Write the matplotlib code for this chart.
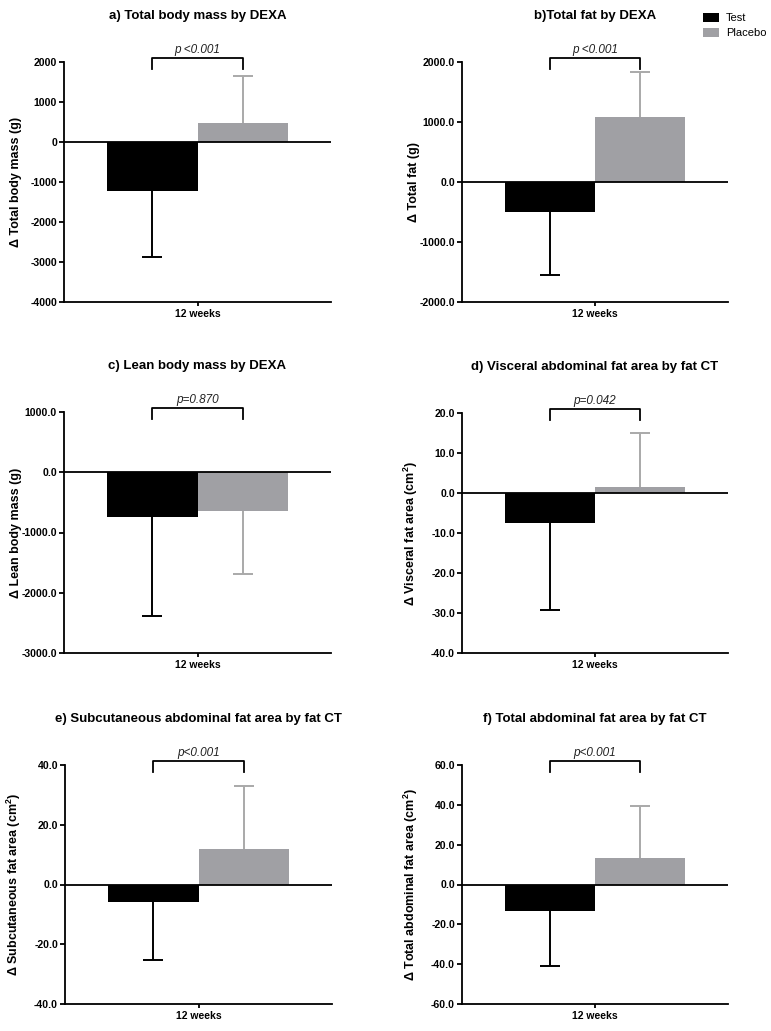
import matplotlib
matplotlib.use("Agg")
import matplotlib.pyplot as plt
import matplotlib.transforms as mtransforms
from matplotlib.patches import Patch
from matplotlib.ticker import FixedLocator, FuncFormatter

plt.rcParams['font.family'] = ['Liberation Sans', 'DejaVu Sans']

# ---------------- data ----------------
groups = ["Test", "Placebo"]
category = "12 weeks"

titles = [
    "a) Total body mass by DEXA",
    "b)Total fat by DEXA",
    "c) Lean body mass by DEXA",
    "d) Visceral abdominal fat area by fat CT",
    "e) Subcutaneous abdominal fat area by fat CT",
    "f) Total abdominal fat area by fat CT",
]
ylabels = [
    "Δ Total body mass (g)",
    "Δ Total fat (g)",
    "Δ Lean body mass (g)",
    "Δ Visceral fat area (cm$^\\mathregular{2}$)",
    "Δ Subcutaneous fat area (cm$^\\mathregular{2}$)",
    "Δ Total abdominal fat area (cm$^\\mathregular{2}$)",
]
p_values = ["p <0.001", "p <0.001", "p=0.870", "p=0.042", "p<0.001", "p<0.001"]

test_mean = [-1230, -495, -745, -7.6, -5.9, -13.3]
test_sd = [1650, 1055, 1645, 21.7, 19.4, 27.7]
placebo_mean = [475, 1090, -640, 1.5, 11.8, 13.5]
placebo_sd = [1165, 738, 1050, 13.4, 21.2, 26.0]

y_ticks = [
    [-4000, -3000, -2000, -1000, 0, 1000, 2000],
    [-2000, -1000, 0, 1000, 2000],
    [-3000, -2000, -1000, 0, 1000],
    [-40, -30, -20, -10, 0, 10, 20],
    [-40, -20, 0, 20, 40],
    [-60, -40, -20, 0, 20, 40, 60],
]
tick_decimals = [0, 1, 1, 1, 1, 1]

# ---------------- style ----------------
W, H = 771, 1031
fig = plt.figure(figsize=(W / 100, H / 100), dpi=100)

# axes boxes in pixels: left, right, top, bottom
boxes = [
    (64, 331, 62, 302),
    (462, 728, 62, 302),
    (64, 331, 412, 653),
    (462, 728, 413, 653),
    (65, 332, 765, 1004),
    (462, 728, 765, 1004),
]
c_test = "#000000"
c_plac = "#a0a0a4"
c_plac_err = "#a9a9a9"
bw = 1.0
xpos = [-0.5, 0.5]

for i in range(6):
    l, r, t, b = boxes[i]
    ax = fig.add_axes([l / W, 1 - b / H, (r - l) / W, (b - t) / H])
    means = [test_mean[i], placebo_mean[i]]
    sds = [test_sd[i], placebo_sd[i]]
    cols = [c_test, c_plac]
    ecols = [c_test, c_plac_err]
    for x, m, s, c, ec in zip(xpos, means, sds, cols, ecols):
        ax.bar(x, m, width=bw, color=c, edgecolor='none', zorder=2)
        if m < 0:
            yerr = [[s], [0]]
        else:
            yerr = [[0], [s]]
        eb = ax.errorbar(x, m, yerr=yerr, fmt='none', ecolor=ec, elinewidth=1.4,
                         capsize=7.5, capthick=1.4, zorder=3)
        caps = eb[1]
        if len(caps) == 2:
            # hide the cap sitting on the bar end
            caps[1 if m < 0 else 0].set_visible(False)
    ax.axhline(0, color='black', lw=1.3, zorder=4)
    ax.set_xlim(-1.483, 1.483)
    ticks = y_ticks[i]
    ax.set_ylim(ticks[0], ticks[-1])
    ax.yaxis.set_major_locator(FixedLocator(ticks))
    d = tick_decimals[i]
    ax.yaxis.set_major_formatter(FuncFormatter(lambda v, p, d=d: f"{v:.{d}f}"))
    ax.set_xticks([0])
    ax.set_xticklabels([category])
    for sp in ['top', 'right']:
        ax.spines[sp].set_visible(False)
    for sp in ['left', 'bottom']:
        ax.spines[sp].set_linewidth(1.3)
    ax.tick_params(axis='y', direction='out', length=3.8, width=1.3,
                   labelsize=7.6, pad=1.2)
    ax.tick_params(axis='x', direction='out', length=3, width=1.3,
                   labelsize=7.5, pad=1.8)
    for lab in ax.get_yticklabels() + ax.get_xticklabels():
        lab.set_fontweight('bold')
    ax.set_ylabel(ylabels[i], fontsize=9, fontweight='bold')
    ax.yaxis.set_label_coords(-42 / (r - l), 0.5)
    ax.set_title(titles[i], fontsize=9.5, fontweight='bold', pad=31)

    # significance bracket
    trans = mtransforms.blended_transform_factory(ax.transData, ax.transAxes)
    hpx = b - t
    ytop = 1 + 4 / hpx
    ylow = 1 - 7 / hpx
    ax.plot([xpos[0], xpos[0], xpos[1], xpos[1]], [ylow, ytop, ytop, ylow],
            color='black', lw=1.3, transform=trans, clip_on=False)
    ax.text(0, 1 + 12 / hpx, p_values[i], transform=trans, ha='center',
            va='center', fontsize=8.5, fontstyle='italic', color='#222222')

handles = [Patch(facecolor=c_test, edgecolor='none', label=groups[0]),
           Patch(facecolor=c_plac, edgecolor='none', label=groups[1])]
fig.legend(handles=handles, loc='upper left', bbox_to_anchor=(703 / W, 1 - 13 / H),
           frameon=False, fontsize=8, handlelength=1.45, handleheight=0.8,
           handletextpad=0.6, labelspacing=0.45, borderaxespad=0, borderpad=0)

fig.savefig("out.png", dpi=100)
